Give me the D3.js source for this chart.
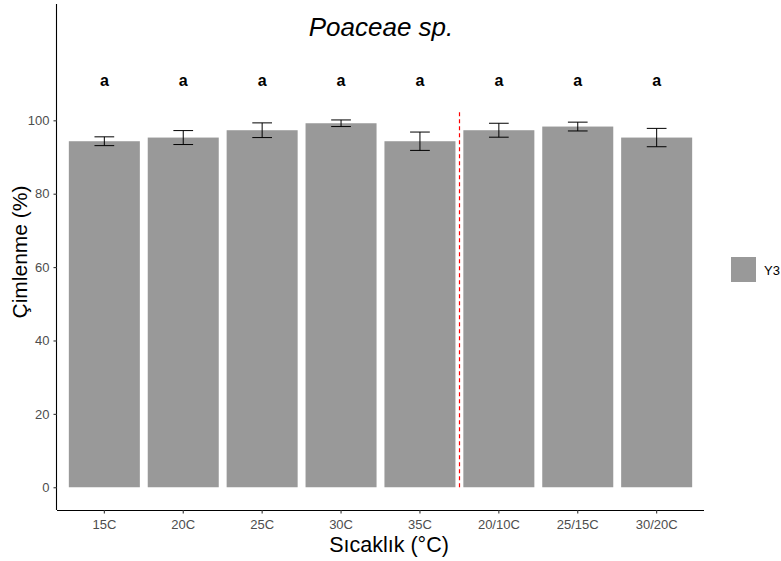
<!DOCTYPE html>
<html>
<head>
<meta charset="utf-8">
<script src="https://cdn.jsdelivr.net/npm/d3@7"></script>
<style>
  html, body { margin: 0; padding: 0; background: #fff; }
  svg { display: block; font-family: "Liberation Sans", Arial, sans-serif; }
</style>
</head>
<body>
<svg id="chart" width="781" height="561"></svg>
<script>
// Germination (%) of Poaceae sp. at constant and alternating temperatures
const categories = ["15C", "20C", "25C", "30C", "35C", "20/10C", "25/15C", "30/20C"];
const meanValues = [94.3, 95.3, 97.3, 99.2, 94.3, 97.3, 98.3, 95.3];
const seValues   = [1.2, 1.9, 2.0, 0.9, 2.5, 1.9, 1.2, 2.5];
const groupLetters = ["a", "a", "a", "a", "a", "a", "a", "a"];
const yTicks = [0, 20, 40, 60, 80, 100];
const letterY = 110;
const dividerPosition = 5.5;   // between constant and alternating regimes
const dividerTop = 103;
const seriesName = "Y3";

const svg = d3.select("#chart");
const panel = { left: 57, right: 704, top: 4, bottom: 510 };

const x = d3.scaleBand()
  .domain(categories)
  .range([panel.left, panel.right])
  .paddingInner(0.1)
  .paddingOuter(0.15);

const y = d3.scaleLinear()
  .domain([-6.2, 131.7])
  .range([panel.bottom, panel.top]);

const barFill = "#999999";
const center = c => x(c) + x.bandwidth() / 2;

// bars
svg.append("g").selectAll("rect")
  .data(categories)
  .join("rect")
  .attr("x", c => x(c))
  .attr("width", x.bandwidth())
  .attr("y", (c, i) => y(meanValues[i]))
  .attr("height", (c, i) => y(0) - y(meanValues[i]))
  .attr("fill", barFill);

// error bars
const capHalf = x.step() * 0.125;
const eb = svg.append("g").attr("stroke", "#000").attr("stroke-width", 1).attr("fill", "none");
categories.forEach((c, i) => {
  const cx = center(c);
  const hi = y(meanValues[i] + seValues[i]);
  const lo = y(meanValues[i] - seValues[i]);
  eb.append("line").attr("x1", cx).attr("x2", cx).attr("y1", hi).attr("y2", lo);
  eb.append("line").attr("x1", cx - capHalf).attr("x2", cx + capHalf).attr("y1", hi).attr("y2", hi);
  eb.append("line").attr("x1", cx - capHalf).attr("x2", cx + capHalf).attr("y1", lo).attr("y2", lo);
});

// divider between temperature regimes
const divX = Math.round(center(categories[4]) + (dividerPosition - 5) * x.step()) + 0.5;
svg.append("line")
  .attr("x1", divX).attr("x2", divX)
  .attr("y1", y(0)).attr("y2", y(dividerTop))
  .attr("stroke", "#ff0000")
  .attr("stroke-width", 1.2)
  .attr("stroke-dasharray", "4,3");

// significance letters
svg.append("g").selectAll("text")
  .data(categories)
  .join("text")
  .attr("x", c => center(c))
  .attr("y", y(letterY) + 2.5)
  .attr("text-anchor", "middle")
  .attr("font-size", 16)
  .attr("font-weight", "bold")
  .attr("fill", "#000")
  .text((c, i) => groupLetters[i]);

// axes
const xAxis = svg.append("g")
  .attr("transform", `translate(0,${panel.bottom})`)
  .call(d3.axisBottom(x).tickSizeOuter(0).tickSize(3.5).tickPadding(6));
const yAxis = svg.append("g")
  .attr("transform", `translate(${panel.left},0)`)
  .call(d3.axisLeft(y).tickValues(yTicks).tickSizeOuter(0).tickSize(3.5).tickPadding(4));

[xAxis, yAxis].forEach(a => {
  a.select(".domain").attr("stroke", "#000").attr("stroke-width", 1.1);
  a.selectAll(".tick line").attr("stroke", "#333").attr("stroke-width", 1.1);
  a.selectAll(".tick text")
    .attr("fill", "#4D4D4D")
    .attr("font-size", 13)
    .attr("font-family", "Liberation Sans, Arial, sans-serif");
});
// extend axis lines to the panel edges
xAxis.select(".domain").attr("d", `M${panel.left},0.5H${panel.right}`);
yAxis.select(".domain").attr("d", `M-0.5,${panel.top}V${panel.bottom}`);

// title
svg.append("text")
  .attr("x", 381)
  .attr("y", 36)
  .attr("text-anchor", "middle")
  .attr("font-size", 26)
  .attr("font-style", "italic")
  .attr("fill", "#000")
  .text("Poaceae sp.");

// axis titles
svg.append("text")
  .attr("x", 389)
  .attr("y", 552)
  .attr("text-anchor", "middle")
  .attr("font-size", 21.5)
  .attr("fill", "#000")
  .text("Sıcaklık (°C)");

svg.append("text")
  .attr("transform", `translate(27,252) rotate(-90)`)
  .attr("text-anchor", "middle")
  .attr("font-size", 21)
  .attr("fill", "#000")
  .text("Çimlenme (%)");

// legend
const legend = svg.append("g").attr("transform", "translate(731,257)");
legend.append("rect").attr("width", 25).attr("height", 25).attr("fill", barFill);
legend.append("text")
  .attr("x", 33).attr("y", 17.5)
  .attr("font-size", 13)
  .attr("fill", "#000")
  .text(seriesName);
</script>
</body>
</html>
